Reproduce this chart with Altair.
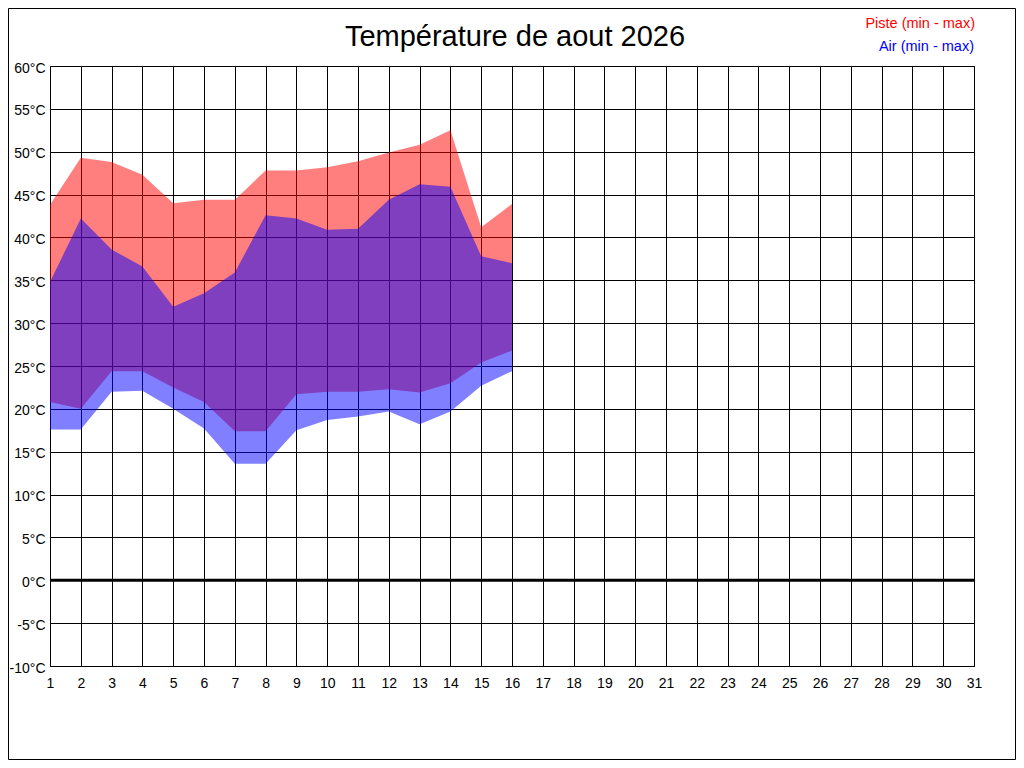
import altair as alt
import pandas as pd

# ---- data ----
days = list(range(1, 17))
piste_max = [43.8, 49.3, 48.8, 47.3, 44.0, 44.4, 44.4, 47.8, 47.8, 48.2, 48.9, 49.9, 50.8, 52.5, 41.2, 43.9]
piste_min = [20.8, 20.0, 24.4, 24.4, 22.5, 20.8, 17.4, 17.4, 21.7, 22.0, 22.0, 22.3, 21.9, 23.0, 25.4, 26.8]
air_max = [34.8, 42.2, 38.6, 36.6, 31.9, 33.5, 35.9, 42.6, 42.2, 40.9, 41.0, 44.4, 46.2, 45.9, 37.8, 37.0]
air_min = [17.6, 17.6, 22.0, 22.1, 20.0, 17.7, 13.6, 13.6, 17.5, 18.7, 19.1, 19.7, 18.2, 19.7, 22.7, 24.4]

x_ticks = list(range(1, 32))
y_ticks = list(range(-10, 61, 5))
title_text = "Température de aout 2026"
legend_piste = "Piste (min - max)"
legend_air = "Air (min - max)"

df = pd.DataFrame({
    "day": days,
    "piste_max": piste_max,
    "piste_min": piste_min,
    "air_max": air_max,
    "air_min": air_min,
})

FONT = "Liberation Sans"
W, H = 924, 600

xscale = alt.Scale(domain=[1, 31], nice=False, zero=False)
yscale = alt.Scale(domain=[-10, 60], nice=False, zero=False)

xaxis = alt.Axis(values=x_ticks, tickCount=31, title=None, grid=True, gridColor="black", gridOpacity=1,
                 gridWidth=1, ticks=False, domain=False, labelFont=FONT, labelFontSize=14,
                 labelColor="black", labelPadding=10, labelFlush=False, labelOverlap=False)
yaxis = alt.Axis(values=y_ticks, title=None, grid=True, gridColor="black", gridOpacity=1,
                 gridWidth=1, ticks=False, domain=False, labelFont=FONT, labelFontSize=14,
                 labelColor="black", labelPadding=5, labelOffset=2, labelFlush=False,
                 labelOverlap=False, labelExpr="datum.value + '°C'")

base = alt.Chart(df)

piste = base.mark_area(color="red", opacity=0.5, interpolate="linear").encode(
    x=alt.X("day:Q", scale=xscale, axis=xaxis),
    y=alt.Y("piste_max:Q", scale=yscale, axis=yaxis),
    y2="piste_min:Q",
)

air = base.mark_area(color="blue", opacity=0.5, interpolate="linear").encode(
    x=alt.X("day:Q", scale=xscale, axis=xaxis),
    y=alt.Y("air_max:Q", scale=yscale, axis=yaxis),
    y2="air_min:Q",
)

zero = alt.Chart(pd.DataFrame({"v": [0]})).mark_rule(color="black", strokeWidth=3).encode(
    y=alt.Y("v:Q", scale=yscale, axis=yaxis)
)

frame = alt.Chart(pd.DataFrame({"a": [0]})).mark_rect(
    fillOpacity=0, stroke="black", strokeWidth=1
).encode(
    x=alt.value(-41.5), x2=alt.value(W + 41.5), y=alt.value(-57.5), y2=alt.value(H + 93.5)
)

title = alt.Chart(pd.DataFrame({"t": [title_text]})).mark_text(
    font=FONT, fontSize=29, color="black", align="center", baseline="alphabetic"
).encode(text="t:N", x=alt.value(465), y=alt.value(-20))

leg1 = alt.Chart(pd.DataFrame({"t": [legend_piste]})).mark_text(
    font=FONT, fontSize=14.5, color="red", align="right", baseline="alphabetic"
).encode(text="t:N", x=alt.value(925), y=alt.value(-38))

leg2 = alt.Chart(pd.DataFrame({"t": [legend_air]})).mark_text(
    font=FONT, fontSize=14.5, color="blue", align="right", baseline="alphabetic"
).encode(text="t:N", x=alt.value(924), y=alt.value(-15.5))

chart = alt.layer(piste, air, zero, frame, title, leg1, leg2).properties(
    width=W, height=H,
    autosize=alt.AutoSizeParams(type="none"),
    padding={"left": 42, "top": 58, "right": 42, "bottom": 94},
    background="white",
).configure_view(stroke="black", strokeWidth=1)

chart.save("out.html", embed_options={"renderer": "svg", "actions": False})
